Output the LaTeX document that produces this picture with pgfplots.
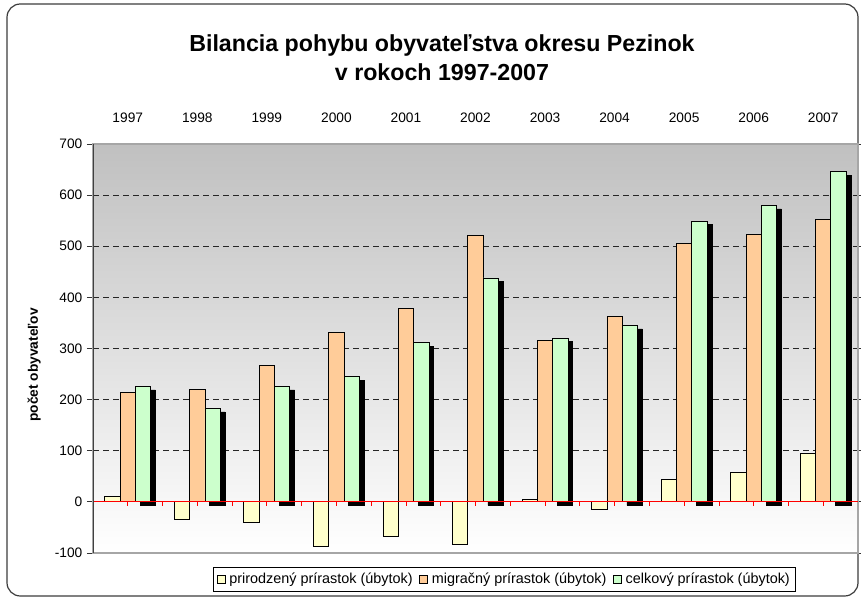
\documentclass[border=0pt]{standalone}
\usepackage{fontspec}
\setmainfont{Liberation Sans}
\usepackage{pgfplots}
\pgfplotsset{compat=1.18}
\definecolor{cyel}{RGB}{255,255,204}
\definecolor{corg}{RGB}{255,204,153}
\definecolor{cgrn}{RGB}{204,255,204}
\definecolor{bgtop}{RGB}{192,192,192}
\definecolor{frame}{RGB}{60,60,60}
\begin{document}
\begin{tikzpicture}
\path[use as bounding box] (0pt,0pt) rectangle (645.75pt,449.25pt);
\draw[frame, line width=0.9pt, rounded corners=10pt] (5.25pt,2.25pt) rectangle (643.5pt,446.25pt);
\node[font=\bfseries\fontsize{17.4}{21.75}\selectfont, align=center] at (331.5pt,406pt) {Bilancia pohybu obyvateľstva okresu Pezinok\\v rokoch 1997-2007};
\begin{axis}[
  at={(69.75pt,34.5pt)}, anchor=south west,
  scale only axis, width=573.75pt, height=306.75pt,
  xmin=-0.5, xmax=10.5, ymin=-100, ymax=700,
  ytick={-100,0,...,700},
  xtick={0,...,10},
  xticklabels={1997,1998,1999,2000,2001,2002,2003,2004,2005,2006,2007},
  xticklabel pos=upper,
  x tick style={draw=none},
  xticklabel style={yshift=8pt},
  ybar, bar width=11.5pt,
  axis background/.style={top color=bgtop, bottom color=white},
  ymajorgrids,
  major grid style={black!85, dash pattern=on 4.5pt off 3pt, line width=0.6pt},
  axis line style={gray!70, line width=0.8pt},
  y tick style={black!80, line width=0.6pt},
  tick align=outside, major tick length=4.5pt,
  tick label style={font=\fontsize{10.3}{12}\selectfont},
  /pgf/number format/assume math mode=true,
  ylabel={počet obyvateľov},
  every axis y label/.style={at={(axis description cs:-0.077,0.46)}, rotate=90, anchor=center, font=\bfseries\fontsize{10.3}{12}\selectfont},
  legend columns=3,
  legend style={at={(axis description cs:0.538,-0.065)}, anchor=center, draw=black, line width=0.6pt,
    font=\fontsize{10.8}{13}\selectfont, inner sep=2.5pt, column sep=1pt,
    /tikz/every even column/.append style={column sep=3pt}},
  legend image code/.code={\draw[#1, line width=0.5pt] (0pt,-3pt) rectangle (6pt,3pt);},
]
\addplot[fill=cyel, draw=black, line width=0.6pt, bar shift=-11.5pt] coordinates {
(0,11) (1,-35) (2,-41) (3,-87) (4,-67) (5,-84) (6,5) (7,-15) (8,43) (9,57) (10,94)};
\addplot[fill=corg, draw=black, line width=0.6pt, bar shift=0pt] coordinates {
(0,214) (1,220) (2,266) (3,332) (4,378) (5,521) (6,315) (7,363) (8,506) (9,523) (10,552)};
\addplot[fill=black, draw=black, bar shift=15pt, yshift=-2.6pt, forget plot] coordinates {
(0,226) (1,183) (2,226) (3,245) (4,311) (5,438) (6,320) (7,345) (8,549) (9,580) (10,646)};
\addplot[fill=cgrn, draw=black, line width=0.6pt, bar shift=11.5pt] coordinates {
(0,226) (1,183) (2,226) (3,245) (4,311) (5,438) (6,320) (7,345) (8,549) (9,580) (10,646)};
\legend{prirodzený prírastok (úbytok), migračný prírastok (úbytok), celkový prírastok (úbytok)}
\draw[red, line width=0.7pt] (axis cs:-0.5,0) -- (axis cs:10.5,0);
\pgfplotsinvokeforeach{0,0.5,1,1.5,2,2.5,3,3.5,4,4.5,5,5.5,6,6.5,7,7.5,8,8.5,9,9.5,10}{
  \draw[red, line width=0.6pt] (axis cs:#1,0) -- ([yshift=-3pt]axis cs:#1,0);
}
\draw[black!75, line width=1.2pt] (rel axis cs:0,0) -- (rel axis cs:0,1);
\end{axis}
\end{tikzpicture}
\end{document}
